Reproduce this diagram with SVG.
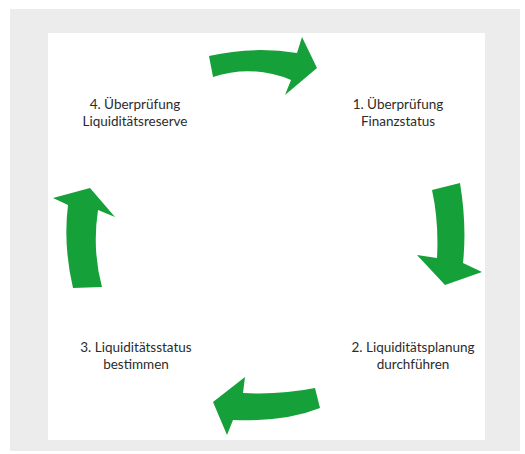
<svg xmlns="http://www.w3.org/2000/svg" width="525" height="454" viewBox="0 0 525 454">
  <style>
    .arrow { fill: #16a03a; }
    .label { font-family: Lato, "Open Sans", "Liberation Sans", sans-serif; font-size: 13.5px; fill: #2b2b2b; text-anchor: middle; }
  </style>
  <!-- frame -->
  <rect x="0" y="0" width="525" height="454" fill="#ffffff"/>
  <rect x="10" y="9" width="510" height="442" fill="#ececec"/>
  <rect x="48" y="33" width="437" height="407" fill="#ffffff"/>

  <!-- cycle connectors -->
  <g id="connectors">
    <path class="arrow" d="M 209,56 Q 253,46 297,53 L 302,37 L 317,68 L 285,95 L 291,80 Q 252,64 213,77 Z"/>
    <path class="arrow" d="M 432,190 L 460,183 Q 467,225 463,263 L 482,272 L 445,285 L 417,255 L 437,258 Q 439,222 432,190 Z"/>
    <path class="arrow" d="M 315,388 Q 280,395 243,393 L 245,377 L 213,402 L 227,435 L 233,420 Q 285,422 320,408 Z"/>
    <path class="arrow" d="M 73,288 Q 63,245 68,205 L 53,198 L 90,188 L 115,217 L 98,210 Q 92,250 102,287 Z"/>
  </g>

  <!-- steps -->
  <g id="step1">
    <text class="label" x="398" y="109">1. Überprüfung</text>
    <text class="label" x="398" y="125.5">Finanzstatus</text>
  </g>
  <g id="step2">
    <text class="label" x="413" y="352">2. Liquiditätsplanung</text>
    <text class="label" x="413" y="368.5">durchführen</text>
  </g>
  <g id="step3">
    <text class="label" x="136" y="352">3. Liquiditätsstatus</text>
    <text class="label" x="136" y="368.5">bestimmen</text>
  </g>
  <g id="step4">
    <text class="label" x="135" y="109">4. Überprüfung</text>
    <text class="label" x="135" y="125.5">Liquiditätsreserve</text>
  </g>
</svg>
